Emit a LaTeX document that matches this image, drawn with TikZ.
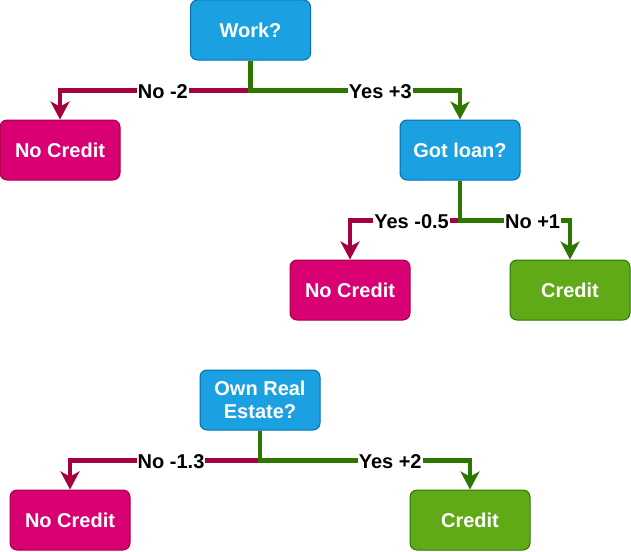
\documentclass[tikz,border=0pt]{standalone}
\usepackage{fontspec}
\setmainfont{Liberation Sans}
\usetikzlibrary{arrows.meta,positioning}
\definecolor{qfill}{HTML}{1BA1E2}
\definecolor{qline}{HTML}{006EAF}
\definecolor{nfill}{HTML}{D80073}
\definecolor{nline}{HTML}{A50040}
\definecolor{cfill}{HTML}{60A917}
\definecolor{cline}{HTML}{2D7600}
\tikzset{
  box/.style={draw, line width=1pt, rounded corners=7pt, minimum width=120pt, minimum height=60pt,
    inner sep=0pt, text=white, font=\fontsize{20}{23}\selectfont\bfseries, align=center},
  qbox/.style={box, fill=qfill, draw=qline},
  nbox/.style={box, fill=nfill, draw=nline},
  cbox/.style={box, fill=cfill, draw=cline},
  link/.style={line width=4.5pt, -{Stealth[length=18pt,width=19pt,inset=5pt]}},
  nolink/.style={link, draw=nline},
  yeslink/.style={link, draw=cline},
  lbl/.style={fill=white, inner sep=1pt, yshift=-1.5pt, text=black, font=\fontsize{20}{23}\selectfont\bfseries}
}
\begin{document}
\begin{tikzpicture}[x=1pt, y=-1pt]
        \useasboundingbox (0,0) rectangle (631,551);
        % first tree
        \draw node[qbox] (q1) at (250.5,30) {Work?};
        \draw node[nbox] (n1) at (60,150) {No Credit};
        \draw node[qbox] (q2) at (460,150) {Got loan?};
        \draw node[nbox] (n2) at (350,290) {No Credit};
        \draw node[cbox] (c1) at (570,290) {Credit};
        \draw[nolink] (q1.south) -- ++(0,30) -| node[lbl, pos=0.23] {No -2} (n1.north);
        \draw[yeslink] (q1.south) -- ++(0,30) -| node[lbl, pos=0.31] {Yes +3} (q2.north);
        \draw[nolink] (q2.south) -- ++(0,40) -| node[lbl, pos=0.22] {Yes -0.5} (n2.north);
        \draw[yeslink] (q2.south) -- ++(0,40) -| node[lbl, pos=0.33] {No +1} (c1.north);
        % second tree
        \draw node[qbox] (q3) at (260,400) {Own Real\\Estate?};
        \draw node[nbox] (n3) at (70,520) {No Credit};
        \draw node[cbox] (c2) at (470,520) {Credit};
        \draw[nolink] (q3.south) -- ++(0,30) -| node[lbl, pos=0.234] {No -1.3} (n3.north);
        \draw[yeslink] (q3.south) -- ++(0,30) -| node[lbl, pos=0.31] {Yes +2} (c2.north);
\end{tikzpicture}
\end{document}
